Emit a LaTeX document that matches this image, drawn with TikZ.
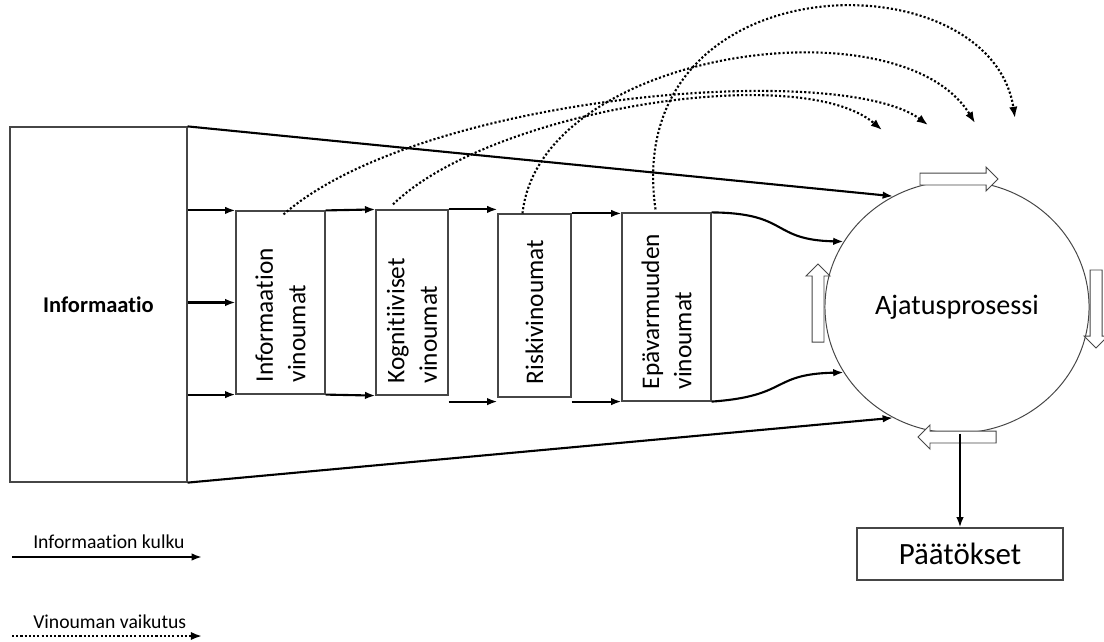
\documentclass[tikz,border=0pt]{standalone}
\usepackage{fontspec}
\setmainfont{Carlito}[Ligatures=CommonOff]
\usetikzlibrary{shapes.geometric, shapes.arrows, arrows.meta, calc}
\definecolor{colBorder}{RGB}{70,70,70}
\definecolor{colLine}{RGB}{0,0,0}
\tikzset{
    infobox/.style={rectangle, draw=colBorder, line width=0.8pt, inner sep=0pt},
    biasbox/.style={rectangle, draw=colBorder, line width=0.8pt, inner sep=0pt},
    biaslabel/.style={rotate=90, anchor=west, align=left, inner sep=0pt,
        font=\fontsize{18}{23}\selectfont},
    turnarrow/.style={single arrow, draw=colBorder, fill=white, line width=0.7pt,
        inner sep=0.1375cm, single arrow head extend=0.15cm, minimum height=1.95cm},
    legend/.style={anchor=west, inner sep=0pt, font=\fontsize{14}{17}\selectfont},
    flow/.style={-{Latex[length=2.6mm, width=1.9mm]}, line width=1.5pt, draw=colLine},
    effect/.style={-{Latex[length=2.8mm, width=2.1mm]}, line width=1.5pt,
        dash pattern=on 1.5pt off 1.5pt, draw=colLine}
}

\begin{document}
\begin{tikzpicture}[x=0.025cm, y=-0.025cm]
    \useasboundingbox (0,0) rectangle (1104,641);

    \node[infobox, minimum width=4.425cm, minimum height=8.875cm,
        font=\fontsize{16}{19}\selectfont\bfseries] (info) at (98.5,304.5) {Informaatio};

    \node[biasbox, minimum width=2.225cm, minimum height=4.575cm] (b1) at (280.5,302.5) {};
    \node[biasbox, minimum width=1.8cm, minimum height=4.625cm] (b2) at (412,302.5) {};
    \node[biasbox, minimum width=1.825cm, minimum height=4.575cm] (b3) at (534.5,305.5) {};
    \node[biasbox, minimum width=2.225cm, minimum height=4.7cm] (b4) at (666.5,307) {};

    \node[biaslabel] (b1text) at ($(b1.south)+(0,-12)$) {Informaation\\vinoumat};
    \node[biaslabel] (b2text) at ($(b2.south)+(0,-12)$) {Kognitiiviset\\vinoumat};
    \node[biaslabel] (b3text) at ($(b3.south)+(0,-13)$) {Riskivinoumat};
    \node[biaslabel] (b4text) at ($(b4.south)+(0,-12)$) {Epävarmuuden\\vinoumat};

    \node[ellipse, draw=colBorder, line width=0.7pt, minimum width=6.6cm, minimum height=6.3cm,
        inner sep=0pt, font=\fontsize{20}{24}\selectfont] (mind) at (957,307) {Ajatusprosessi};

    \node[turnarrow] (turnT) at (956,179) {};
    \node[turnarrow, rotate=-90] (turnR) at (1096,306) {};
    \node[turnarrow, rotate=180] (turnB) at (960,437) {};
    \node[turnarrow, rotate=90] (turnL) at (818,306) {};

    \node[infobox, minimum width=5.15cm, minimum height=1.3cm,
        font=\fontsize{22}{26}\selectfont] (dec) at (960,554) {Päätökset};

    \node[legend] (kulku) at (33,542) {Informaation kulku};
    \node[legend] (vaikutus) at (33,622) {Vinouman vaikutus};
    \coordinate (kulkuA) at (12,557);
    \coordinate (kulkuB) at (202,557);
    \coordinate (vaikA) at (12,636);
    \coordinate (vaikB) at (202,636);

    \coordinate (tip1) at (928,125);
    \coordinate (tip2) at (882,130);
    \coordinate (tip3) at (975,123);
    \coordinate (tip4) at (1015,118);
    \coordinate (b23s) at ($(b2.south east)+(0,6)$);

    \draw[flow] (info.east |- b1.north west) -- (b1.north west);
    \draw[flow] (info.east |- b1.west) -- (b1.west);
    \draw[flow] (info.east |- b1.south west) -- (b1.south west);
    \draw[flow] (b1.north east) -- (b2.north west);
    \draw[flow] (b1.south east) -- (b2.south west);
    \draw[flow] (b2.north east) -- (b2.north east -| b3.west);
    \draw[flow] (b23s) -- (b23s -| b3.west);
    \draw[flow] (b3.north east) -- (b3.north east -| b4.west);
    \draw[flow] (b4.south west -| b3.east) -- (b4.south west);
    \draw[flow] (b4.north east) .. controls (790,213) and (770,240) .. (mind.150);
    \draw[flow] (b4.south east) .. controls (790,396) and (770,374) .. (mind.210);
    \draw[flow] (info.north east) -- (mind.120);
    \draw[flow] (info.south east) -- (mind.240);
    \draw[flow] (dec.north |- mind.south) -- (dec.north);

    \draw[effect] ($(b1.north)+(3,4)$) .. controls (420,95) and (840,60) .. (tip1);
    \draw[effect] ($(b2.north)+(-19,-5)$) .. controls (490,110) and (800,60) .. (tip2);
    \draw[effect] ($(b3.north)+(-12,0)$) .. controls (540,50) and (900,0) .. (tip3);
    \draw[effect] ($(b4.north)+(-11,-3)$) .. controls (620,-40) and (990,-45) .. (tip4);

    \draw[flow] (kulkuA) -- (kulkuB);
    \draw[effect] (vaikA) -- (vaikB);
\end{tikzpicture}
\end{document}
